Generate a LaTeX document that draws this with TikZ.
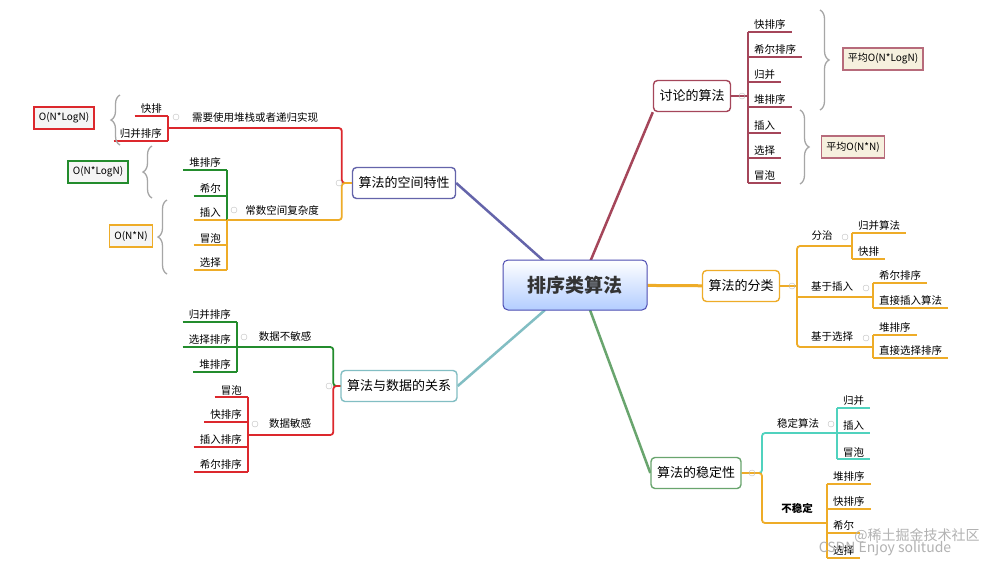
\documentclass[tikz,border=0pt]{standalone}
\usepackage{fontspec}
\setmainfont{Noto Sans CJK SC}
\usetikzlibrary{positioning}
\usetikzlibrary{backgrounds}
\usetikzlibrary{decorations.pathreplacing}

\definecolor{maroon}{RGB}{165,70,90}
\definecolor{slate}{RGB}{100,100,170}
\definecolor{orng}{RGB}{238,172,40}
\definecolor{teal2}{RGB}{130,190,195}
\definecolor{grn}{RGB}{105,165,110}
\definecolor{rd}{RGB}{220,40,45}
\definecolor{dgrn}{RGB}{35,140,45}
\definecolor{cyn}{RGB}{80,210,190}
\definecolor{beige}{RGB}{246,240,222}

\tikzset{
  topic/.style={draw=#1, line width=1.4pt, rounded corners=4pt, fill=white,
    font=\fontsize{13}{15}\selectfont, minimum height=31pt, inner xsep=6pt},
  br/.style={draw=#1, line width=1.8pt, rounded corners=3pt},
  rleaf/.style={anchor=south west, inner xsep=6pt, inner ysep=2pt,
    font=\fontsize{10.5}{12}\selectfont,
    append after command={(\tikzlastnode.south west) edge[line width=1.8pt, draw=#1] (\tikzlastnode.south east)}},
  lleaf/.style={anchor=south east, inner xsep=6pt, inner ysep=2pt,
    font=\fontsize{10.5}{12}\selectfont,
    append after command={(\tikzlastnode.south west) edge[line width=1.8pt, draw=#1] (\tikzlastnode.south east)}},
  mid/.style={font=\fontsize{10.5}{12}\selectfont, inner sep=1pt},
  cbox/.style={draw=#1, line width=1.6pt, fill=gray!8, font=\fontsize{10}{12}\selectfont,
    minimum height=22pt, inner xsep=5pt},
  gbrace/.style={draw=gray!70, line width=1.3pt, decorate, decoration={brace, amplitude=9pt}},
  fold/.style={circle, draw=gray!50, inner sep=0pt, minimum size=6pt},
}

\begin{document}
\begin{tikzpicture}[x=1pt, y=-1pt]
\useasboundingbox (0,0) rectangle (1000,566);

% centre and main topics
\node (root) [draw=blue!40!gray, line width=1pt, rounded corners=5pt, top color=white,
  bottom color=cyan!35!blue!30, minimum width=144pt, minimum height=50pt,
  font=\fontsize{19}{22}\selectfont\bfseries, text=black!80] at (575,285) {排序类算法};
\node (disc) [topic=maroon] at (692,96) {讨论的算法};
\node (space) [topic=slate] at (404,183) {算法的空间特性};
\node (cls) [topic=orng] at (741,286) {算法的分类};
\node (data) [topic=teal2] at (399,386) {算法与数据的关系};
\node (stab) [topic=grn] at (696,473) {算法的稳定性};

\begin{scope}[on background layer]
\fill [white] (0,0) rectangle (1000,566);
\path [draw=maroon, line width=2.5pt] (590,262) -- (disc.south west);
\path [draw=slate, line width=2.5pt] (545,262) -- (space.east);
\path [draw=orng, line width=3pt] (root) -- (cls);
\path [draw=teal2, line width=2.5pt] (545,310) -- (data.east);
\path [draw=grn, line width=2.5pt] (590,310) -- (stab.west);
\end{scope}

% discussed algorithms
\node (d1) [rleaf=maroon] at (748,32) {快排序};
\node (d2) [rleaf=maroon] at (748,57) {希尔排序};
\node (d3) [rleaf=maroon] at (748,82) {归并};
\node (d4) [rleaf=maroon] at (748,107) {堆排序};
\node (d5) [rleaf=maroon] at (748,133) {插入};
\node (d6) [rleaf=maroon] at (748,158) {选择};
\node (d7) [rleaf=maroon] at (748,183) {冒泡};
\path [br=maroon] (disc.east) -- (disc.east -| d1.south west);
\path [br=maroon] (d1.south west) -- (d7.south west);
\path [gbrace] (820,10) -- (820,110);
\node (avg1) [cbox=maroon!80, fill=beige] at (883,59) {平均O(N*LogN)};
\path [gbrace] (800,110) -- (800,184);
\node (avg2) [cbox=maroon!80, fill=beige] at (853,147) {平均O(N*N)};
\node (f1) [fold] at (742,96) {};

% space
\node (k1) [lleaf=rd] at (168,116) {快排};
\node (g1) [lleaf=rd] at (168,141) {归并排序};
\path [br=rd] (k1.south east) -- (g1.south east);
\coordinate (jr) at (168,128);
\node (need) [mid] at (255,117) {需要使用堆栈或者递归实现};
\path [br=rd] (space.west) -- ++(-10,0) |- (jr);
\path [gbrace] (120,145) -- (120,95);
\node (c1) [cbox=rd] at (64,118) {O(N*LogN)};
\node (h1) [lleaf=dgrn] at (227,170) {堆排序};
\node (h2) [lleaf=dgrn] at (227,196) {希尔};
\node (i1) [lleaf=orng] at (227,220) {插入};
\node (i2) [lleaf=orng] at (227,245) {冒泡};
\node (i3) [lleaf=orng] at (227,270) {选择};
\path [br=dgrn] (h1.south east) -- (i1.south east);
\path [br=orng] (i1.south east) -- (i3.south east);
\node (const) [mid] at (282,210) {常数空间复杂度};
\path [br=orng] (space.west) -- ++(-10,0) |- (i1.south east);
\path [gbrace] (152,198) -- (152,146);
\node (c2) [cbox=dgrn] at (98,172) {O(N*LogN)};
\path [gbrace] (167,274) -- (167,200);
\node (c3) [cbox=orng] at (131,236) {O(N*N)};
\node (f2) [fold] at (339,183) {};
\node (f3) [fold] at (176,117) {};
\node (f4) [fold] at (234,210) {};

% classification
\node (a1) [rleaf=orng] at (852,233) {归并算法};
\node (a2) [rleaf=orng] at (852,259) {快排};
\node (b1) [rleaf=orng] at (873,283) {希尔排序};
\node (b2) [rleaf=orng] at (873,308) {直接插入算法};
\node (e1) [rleaf=orng] at (873,335) {堆排序};
\node (e2) [rleaf=orng] at (873,358) {直接选择排序};
\path [br=orng] (a1.south west) -- (a2.south west);
\path [br=orng] (b1.south west) -- (b2.south west);
\path [br=orng] (e1.south west) -- (e2.south west);
\node (dc) [mid] at (822,236) {分治};
\node (ins) [mid] at (832,287) {基于插入};
\node (sel) [mid] at (832,337) {基于选择};
\coordinate (ja) at (852,246);
\coordinate (jb) at (873,297);
\coordinate (je) at (873,347);
\path [br=orng] (cls.east) -- (797,286);
\path [br=orng] (ja) -| (797,286) |- (je);
\path [br=orng] (797,297) -- (jb);
\node (f5) [fold] at (792,286) {};
\node (f6) [fold] at (845,237) {};
\node (f7) [fold] at (866,288) {};
\node (f8) [fold] at (866,338) {};

% data
\node (n1) [lleaf=dgrn] at (237,322) {归并排序};
\node (n2) [lleaf=dgrn] at (237,347) {选择排序};
\node (n3) [lleaf=dgrn] at (237,372) {堆排序};
\path [br=dgrn] (n1.south east) -- (n3.south east);
\node (s1) [lleaf=rd] at (248,397) {冒泡};
\node (s2) [lleaf=rd] at (248,422) {快排序};
\node (s3) [lleaf=rd] at (248,447) {插入排序};
\node (s4) [lleaf=rd] at (248,472) {希尔排序};
\path [br=rd] (s1.south east) -- (s4.south east);
\node (insens) [mid] at (285,337) {数据不敏感};
\node (sens) [mid] at (290,424) {数据敏感};
\path [br=dgrn] (data.west) -- ++(-7,0) |- (n2.south east);
\path [br=rd] (data.west) -- ++(-7,0) |- (248,435);
\node (f9) [fold] at (329,386) {};
\node (f10) [fold] at (244,337) {};
\node (f11) [fold] at (255,424) {};

% stability
\node (t1) [rleaf=cyn] at (837,408) {归并};
\node (t2) [rleaf=cyn] at (837,433) {插入};
\node (t3) [rleaf=cyn] at (837,459) {冒泡};
\path [br=cyn] (t1.south west) -- (t3.south west);
\node (u1) [rleaf=orng] at (827,484) {堆排序};
\node (u2) [rleaf=orng] at (827,509) {快排序};
\node (u3) [rleaf=orng] at (827,533) {希尔};
\node (u4) [rleaf=orng] at (827,558) {选择};
\path [br=orng] (u1.south west) -- (u4.south west);
\node (stable) [mid] at (798,423) {稳定算法};
\path [br=cyn] (stab.east) -- (762,473) |- (t2.south west);
\path [br=orng] (stab.east) -- (762,473) |- (827,523);
\node (unst) [mid, fill=white, font=\fontsize{10.5}{12}\selectfont\bfseries] at (797,508) {不稳定};
\node (f12) [fold] at (752,473) {};
\node (f13) [fold] at (831,424) {};

% watermark
\node (wm1) [text=gray!60, font=\fontsize{14}{16}\selectfont] at (917,536) {@稀土掘金技术社区};
\node (wm2) [text=gray!60, font=\fontsize{14}{16}\selectfont] at (885,549) {CSDN Enjoy solitude};
\end{tikzpicture}
\end{document}
